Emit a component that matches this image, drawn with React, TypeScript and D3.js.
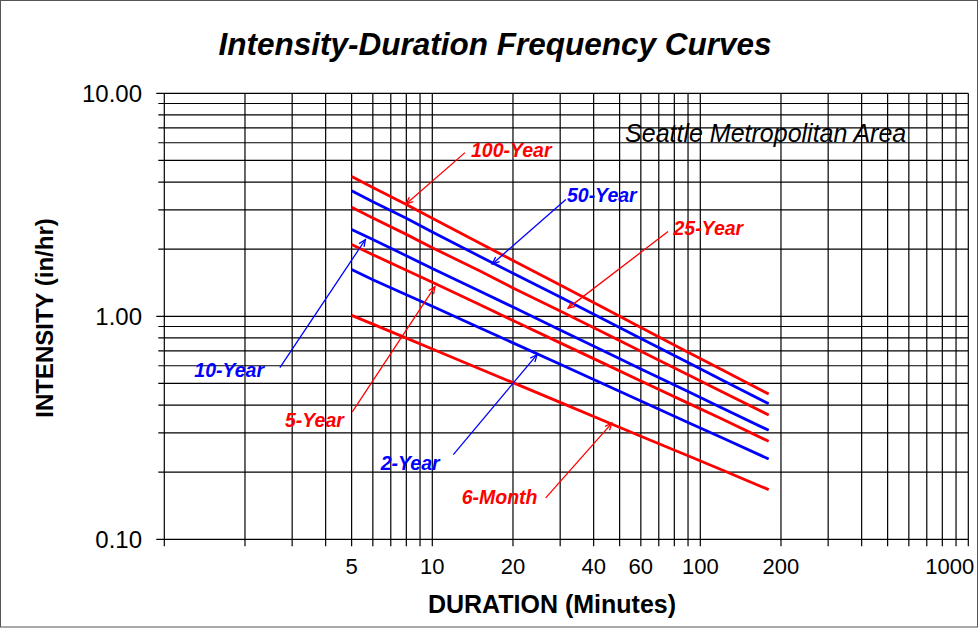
import React from "react";
import * as d3 from "d3";

const durations = [5, 6, 8, 10, 15, 20, 30, 45, 60, 90, 120, 180];
const yr100 = [4.24, 3.78, 3.17, 2.75, 2.13, 1.78, 1.38, 1.07, 0.89, 0.69, 0.578, 0.448];
const yr50 = [3.66, 3.26, 2.75, 2.39, 1.86, 1.56, 1.22, 0.95, 0.795, 0.62, 0.52, 0.405];
const yr25 = [3.08, 2.76, 2.33, 2.03, 1.6, 1.34, 1.055, 0.828, 0.697, 0.547, 0.46, 0.361];
const yr10 = [2.45, 2.21, 1.87, 1.64, 1.3, 1.1, 0.868, 0.687, 0.581, 0.46, 0.389, 0.308];
const yr5 = [2.1, 1.89, 1.61, 1.42, 1.13, 0.957, 0.76, 0.604, 0.513, 0.408, 0.347, 0.275];
const yr2 = [1.62, 1.46, 1.25, 1.11, 0.889, 0.76, 0.609, 0.488, 0.417, 0.334, 0.286, 0.229];
const mo6 = [1.01, 0.922, 0.798, 0.713, 0.582, 0.504, 0.411, 0.335, 0.29, 0.237, 0.205, 0.167];

const seriesNames = ["100-Year", "50-Year", "25-Year", "10-Year", "5-Year", "2-Year", "6-Month"];
const seriesValues = [yr100, yr50, yr25, yr10, yr5, yr2, mo6];
const seriesColors = ["#ff0000", "#0000ff", "#ff0000", "#0000ff", "#ff0000", "#0000ff", "#ff0000"];

const xTickLabels = [5, 10, 20, 40, 60, 100, 200, 1000];
const yTickLabels = [0.1, 1, 10];

// annotation anchors in data space: [duration, intensity]
const annTip = [[7.98, 3.19], [16.75, 1.718], [32.1, 1.088], [5.63, 2.21], [10.23, 1.359], [24.6, 0.673], [46.8, 0.332]];
const annTail = [[13.24, 5.42], [31.5, 3.34], [75.8, 2.4], [2.7, 0.589], [5.03, 0.3726], [11.98, 0.2398], [26.5, 0.1534]];
const annLabel = [[13.94, 5.16], [31.8, 3.24], [79.4, 2.31], [1.294, 0.533], [2.82, 0.3179], [6.42, 0.2039], [12.87, 0.1441]];
const noteAt = [52.4, 6.03];

const W = 979;
const H = 628;
const FONT = "'Liberation Sans', Arial, Helvetica, sans-serif";

export default function App() {
  const x = d3.scaleLog().domain([1, 1000]).range([164.3, 968.3]);
  const y = d3.scaleLog().domain([0.1, 10]).range([539.3, 93.3]);
  const xGrid = x.ticks();
  const yGrid = y.ticks();
  const line = d3
    .line<[number, number]>()
    .x((d) => x(d[0]))
    .y((d) => y(d[1]));
  const isMajorY = (v: number) => [0.1, 1, 10].some((m) => Math.abs(m - v) < 1e-9);
  const fmtY = d3.format(".2f");

  return (
    <svg
      width={W}
      height={H}
      style={{ position: "absolute", left: 0, top: 0, background: "#fff" }}
      fontFamily={FONT}
    >
      <defs>
        {["#ff0000", "#0000ff"].map((c) => (
          <marker
            key={c}
            id={"arr" + c.slice(1)}
            markerUnits="userSpaceOnUse"
            markerWidth={12}
            markerHeight={12}
            viewBox="-10 -6 12 12"
            refX={0}
            refY={0}
            orient="auto"
          >
            <path d="M-7,-3 L0,0 L-7,3" fill="none" stroke={c} strokeWidth={1.3} />
          </marker>
        ))}
      </defs>
      <rect x={0.5} y={0.5} width={977} height={626.5} fill="#fff" stroke="#555" strokeWidth={1} />

      {/* title */}
      <text x={495} y={55} textAnchor="middle" fontSize={31.5} fontWeight="bold" fontStyle="italic">
        Intensity-Duration Frequency Curves
      </text>

      {/* grid verticals */}
      {xGrid.map((v, i) => (
        <line key={"gx" + i} x1={x(v)} x2={x(v)} y1={y(10)} y2={y(0.1) + 7} stroke="#000" strokeWidth={1.2} />
      ))}
      {/* grid horizontals */}
      {yGrid.map((v, i) => (
        <line
          key={"gy" + i}
          x1={x(1) - (isMajorY(v) ? 8 : 6)}
          x2={x(1000)}
          y1={y(v)}
          y2={y(v)}
          stroke="#000"
          strokeWidth={1.2}
        />
      ))}

      {/* y tick labels */}
      {yTickLabels.map((v) => (
        <text key={"yl" + v} x={142} y={y(v)} dy="0.36em" textAnchor="end" fontSize={24}>
          {fmtY(v)}
        </text>
      ))}
      {/* x tick labels */}
      {xTickLabels.map((v, i) => (
        <text
          key={"xl" + v}
          x={i === xTickLabels.length - 1 ? x(v) + 6 : x(v)}
          y={574}
          textAnchor={i === xTickLabels.length - 1 ? "end" : "middle"}
          fontSize={22}
        >
          {v}
        </text>
      ))}

      {/* axis titles */}
      <text x={552} y={613} textAnchor="middle" fontSize={25} fontWeight="bold">
        DURATION (Minutes)
      </text>
      <text
        transform="translate(53,318) rotate(-90)"
        textAnchor="middle"
        fontSize={24}
        fontWeight="bold"
      >
        INTENSITY (in/hr)
      </text>

      {/* curves */}
      {seriesValues.map((vals, i) => (
        <path
          key={"s" + i}
          d={line(durations.map((d, j) => [d, vals[j]] as [number, number])) || ""}
          fill="none"
          stroke={seriesColors[i]}
          strokeWidth={2.8}
          strokeLinejoin="round"
        />
      ))}

      {/* annotations */}
      {seriesNames.map((name, i) => (
        <g key={"a" + i}>
          <line
            x1={x(annTail[i][0])}
            y1={y(annTail[i][1])}
            x2={x(annTip[i][0])}
            y2={y(annTip[i][1])}
            stroke={seriesColors[i]}
            strokeWidth={1.3}
            markerEnd={`url(#arr${seriesColors[i].slice(1)})`}
          />
          <text
            x={x(annLabel[i][0])}
            y={y(annLabel[i][1])}
            fill={seriesColors[i]}
            fontSize={19.5}
            fontWeight="bold"
            fontStyle="italic"
          >
            {name}
          </text>
        </g>
      ))}

      <text x={x(noteAt[0])} y={y(noteAt[1])} fontSize={25} fontStyle="italic">
        Seattle Metropolitan Area
      </text>
    </svg>
  );
}
